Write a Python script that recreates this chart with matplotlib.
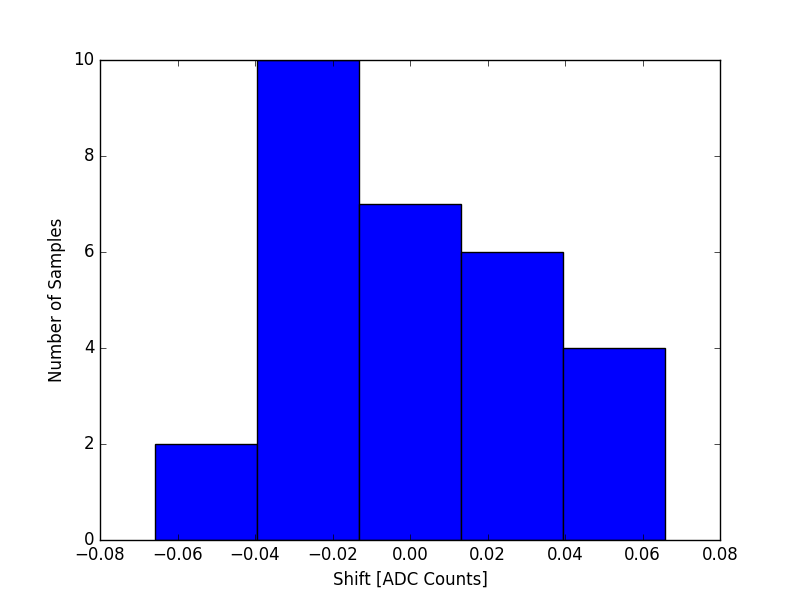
import matplotlib
matplotlib.use("Agg")
import matplotlib.pyplot as plt
import numpy as np

plt.style.use('classic')

bin_edges = [-0.0658, -0.0395, -0.0132, 0.0132, 0.0395, 0.0658]
counts = [2, 10, 7, 6, 4]

fig = plt.figure(figsize=(8, 6), dpi=100)
ax = fig.add_subplot(111)
edges = np.array(bin_edges)
ax.bar(edges[:-1], counts, width=np.diff(edges), align='edge',
       color='b', edgecolor='k', linewidth=1)
ax.set_xlim(-0.08, 0.08)
ax.set_ylim(0, 10)
ax.set_xlabel('Shift [ADC Counts]')
ax.set_ylabel('Number of Samples')
fig.savefig('out.png', dpi=100)
